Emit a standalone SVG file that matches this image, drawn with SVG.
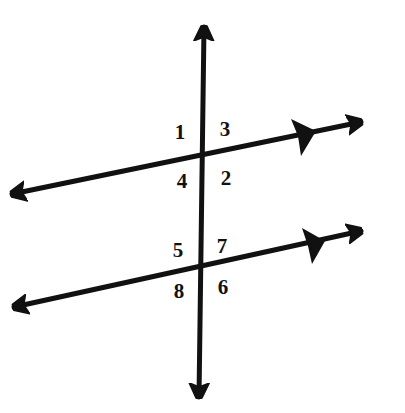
<svg xmlns="http://www.w3.org/2000/svg" width="405" height="413" viewBox="0 0 405 413">
<style>
.ln{stroke:#111;stroke-width:5;fill:none;stroke-linecap:round}
.lb{font-family:"Liberation Serif","Times New Roman",serif;font-size:21px;font-weight:bold;fill:#111;text-anchor:middle}
.par{fill:#111}
</style>
<defs>
<marker id="ah" viewBox="0 0 16 22" refX="14" refY="11" markerWidth="16" markerHeight="22" markerUnits="userSpaceOnUse" orient="auto-start-reverse">
<path d="M0,1 L15,8 L16,11 L15,14 L0,21 L4,11 Z" fill="#111" stroke="#111" stroke-width="1.5" stroke-linejoin="round"/>
</marker>
</defs>
<g id="connectors">
<line id="transversal" class="ln" x1="204" y1="27" x2="199" y2="397" marker-start="url(#ah)" marker-end="url(#ah)"/>
<line id="line-top" class="ln" x1="12" y1="194" x2="361" y2="122" marker-start="url(#ah)" marker-end="url(#ah)"/>
<line id="line-bottom" class="ln" x1="14" y1="307" x2="361" y2="231" marker-start="url(#ah)" marker-end="url(#ah)"/>
<path class="par" d="M316,131 L291,119 L298,136 L301,156 Z"/>
<path class="par" d="M325,241 L302,228 L308,246 L312,264 Z"/>
</g>
<g id="labels">
<text class="lb" x="180" y="139">1</text>
<text class="lb" x="225" y="136">3</text>
<text class="lb" x="182" y="188">4</text>
<text class="lb" x="226" y="185">2</text>
<text class="lb" x="178" y="257">5</text>
<text class="lb" x="222" y="253">7</text>
<text class="lb" x="179" y="298">8</text>
<text class="lb" x="223" y="294">6</text>
</g>
</svg>
